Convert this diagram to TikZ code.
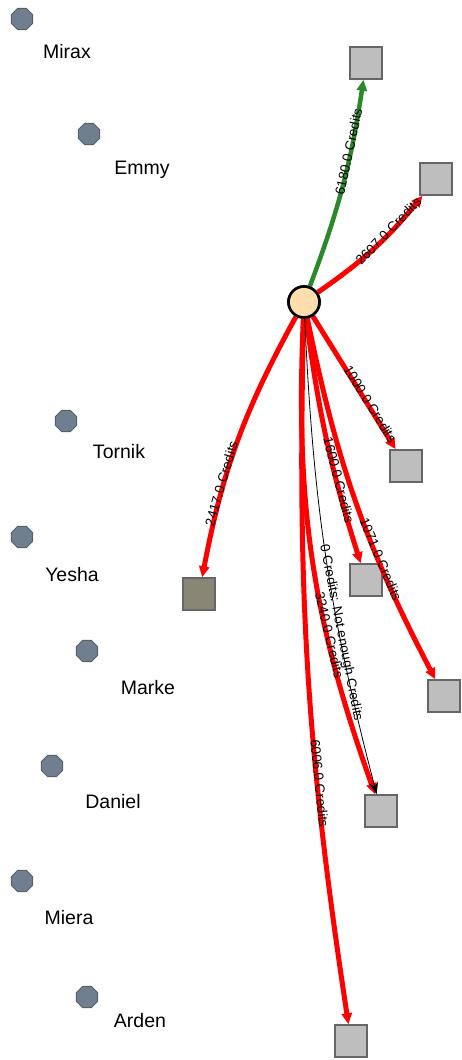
\documentclass[tikz,border=0pt]{standalone}
\usepackage{fontspec}
\setmainfont{Liberation Sans}
\usetikzlibrary{shapes.geometric,arrows.meta}
\definecolor{sqgray}{HTML}{BEBEBE}
\definecolor{sqborder}{HTML}{666666}
\definecolor{darksq}{HTML}{8A8676}
\definecolor{octfill}{HTML}{6F7F8F}
\definecolor{octborder}{HTML}{55606B}
\definecolor{centerfill}{HTML}{FFDEAD}
\definecolor{edgegreen}{HTML}{2A8A2A}
\begin{document}
\begin{tikzpicture}[x=1pt,y=-1pt,
  sq/.style={draw=sqborder,fill=sqgray,line width=1.5pt,minimum size=32pt,inner sep=0pt},
  dsq/.style={sq,fill=darksq},
  oct/.style={regular polygon,regular polygon sides=8,draw=octborder,fill=octfill,line width=1pt,minimum size=23pt,inner sep=0pt},
  ctr/.style={circle,draw=black,fill=centerfill,line width=2.6pt,minimum size=31pt,inner sep=0pt},
  pname/.style={font=\fontsize{19.5}{22}\selectfont,inner sep=0pt},
  elab/.style={font=\fontsize{13.5}{15}\selectfont,sloped,pos=0.67,above=-5pt,inner sep=0pt},
  redge/.style={draw=red,line width=5pt,-{Triangle[length=11pt,width=10pt]}},
  gedge/.style={draw=edgegreen,line width=4.5pt,-{Triangle[length=11pt,width=10pt]}},
  bedge/.style={draw=black,line width=0.8pt,-{Stealth[length=12pt,width=9pt]}}
]
\useasboundingbox (0,0) rectangle (462,1060);

% center
\node[ctr] (c) at (304,302) {};

% squares
\node[sq] (s1) at (366,63) {};
\node[sq] (s2) at (436,179) {};
\node[sq] (s3) at (406,466) {};
\node[dsq] (s4) at (199,594) {};
\node[sq] (s5) at (366,580) {};
\node[sq] (s6) at (444,696) {};
\node[sq] (s7) at (381,811) {};
\node[sq] (s8) at (351,1041) {};

% people
\node[oct] (o1) at (22,19) {};
\node[pname] (n1) at (67,52) {Mirax};
\node[oct] (o2) at (89,134) {};
\node[pname] (n2) at (142,170) {Emmy};
\node[oct] (o3) at (66,421) {};
\node[pname] (n3) at (119,452) {Tornik};
\node[oct] (o4) at (22,537) {};
\node[pname] (n4) at (72,575) {Yesha};
\node[oct] (o5) at (87,651) {};
\node[pname] (n5) at (148,688) {Marke};
\node[oct] (o6) at (52,766) {};
\node[pname] (n6) at (113,802) {Daniel};
\node[oct] (o7) at (22,881) {};
\node[pname] (n7) at (69,918) {Miera};
\node[oct] (o8) at (87,997) {};
\node[pname] (n8) at (140,1021) {Arden};

% edges
\draw[gedge] (c) to[bend right=6] node[elab] {6180.0 Credits} (s1);
\draw[redge] (c) to[bend right=8] node[elab] {2607.0 Credits} (s2);
\draw[redge] (c) to node[elab] {1000.0 Credits} (s3);
\draw[redge] (c) to[bend right=9] node[elab] {2417.0 Credits} (s4);
\draw[redge] (c) to[bend right=5] node[elab] {1600.0 Credits} (s5);
\draw[redge] (c) to[bend right=8] node[elab] {1071.0 Credits} (s6);
\draw[redge] (c) to[bend right=11] node[elab] {3240.0 Credits} (s7);
\draw[redge] (c) to[bend right=5] node[elab] {6006.0 Credits} (s8);
\draw[bedge] (c) to[bend right=6] node[elab] {0 Credits: Not enough Credits} (s7);

% redraw center on top
\node[ctr] at (c) {};
\end{tikzpicture}
\end{document}
